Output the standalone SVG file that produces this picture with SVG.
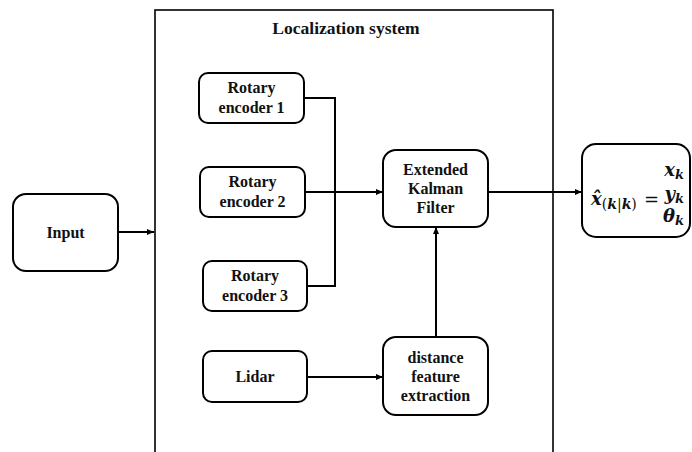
<svg xmlns="http://www.w3.org/2000/svg" width="692" height="452" viewBox="0 0 692 452">
  <defs>
    <marker id="arrow" markerWidth="8" markerHeight="8" refX="7" refY="4" orient="auto" markerUnits="userSpaceOnUse">
      <path d="M0,1 L7,4 L0,7 Z" fill="#000"/>
    </marker>
    <style>
      .box { fill: #fff; stroke: #000; stroke-width: 2; }
      .frame { fill: none; stroke: #000; stroke-width: 1.6; }
      .lbl { font-family: "Liberation Serif", "Times New Roman", serif; font-weight: bold; font-size: 16px; fill: #111; text-anchor: middle; }
      .title { font-size: 17.5px; }
      .wire { fill: none; stroke: #000; stroke-width: 2; }
      .math { font-family: "DejaVu Serif", "Liberation Serif", serif; font-weight: bold; font-style: italic; font-size: 18px; fill: #111; }
      .up { font-style: normal; font-weight: normal; }
      .col { text-anchor: end; }
    </style>
  </defs>

  <rect width="692" height="452" fill="#fff"/>

  <!-- localization system frame (open at the bottom edge of the page) -->
  <g id="localization-system">
    <rect class="frame" x="155" y="10" width="398" height="470"/>
    <text class="lbl title" x="346" y="34">Localization system</text>
  </g>

  <g id="connectors">
    <line class="wire" x1="118" y1="232" x2="154" y2="232" marker-end="url(#arrow)"/>
    <polyline class="wire" points="304,98 335,98 335,286 307,286"/>
    <line class="wire" x1="305" y1="192" x2="383" y2="192" marker-end="url(#arrow)"/>
    <line class="wire" x1="488" y1="192" x2="582" y2="192" marker-end="url(#arrow)"/>
    <line class="wire" x1="307" y1="377" x2="383" y2="377" marker-end="url(#arrow)"/>
    <line class="wire" x1="436" y1="337" x2="436" y2="227" marker-end="url(#arrow)"/>
  </g>

  <g id="input">
    <rect class="box" x="13" y="194" width="105" height="77" rx="13"/>
    <text class="lbl" x="65.5" y="238">Input</text>
  </g>

  <g id="rotary-encoder-1">
    <rect class="box" x="199" y="73" width="105" height="50" rx="9"/>
    <text class="lbl" x="251.5" y="93">Rotary</text>
    <text class="lbl" x="251.5" y="113">encoder 1</text>
  </g>

  <g id="rotary-encoder-2">
    <rect class="box" x="200" y="167" width="105" height="50" rx="9"/>
    <text class="lbl" x="252.5" y="187">Rotary</text>
    <text class="lbl" x="252.5" y="207">encoder 2</text>
  </g>

  <g id="rotary-encoder-3">
    <rect class="box" x="203" y="261" width="104" height="50" rx="9"/>
    <text class="lbl" x="255" y="281">Rotary</text>
    <text class="lbl" x="255" y="301">encoder 3</text>
  </g>

  <g id="ekf">
    <rect class="box" x="383" y="150" width="105" height="77" rx="13"/>
    <text class="lbl" x="435.5" y="175">Extended</text>
    <text class="lbl" x="435.5" y="194">Kalman</text>
    <text class="lbl" x="435.5" y="213">Filter</text>
  </g>

  <g id="lidar">
    <rect class="box" x="203" y="351" width="104" height="51" rx="9"/>
    <text class="lbl" x="255" y="382">Lidar</text>
  </g>

  <g id="distance-feature-extraction">
    <rect class="box" x="383" y="337" width="105" height="78" rx="13"/>
    <text class="lbl" x="435.5" y="363">distance</text>
    <text class="lbl" x="435.5" y="382">feature</text>
    <text class="lbl" x="435.5" y="401">extraction</text>
  </g>

  <g id="state-output">
    <rect class="box" x="582" y="144" width="108" height="93" rx="14"/>
    <!-- estimated state vector: x-hat(k|k) = [x_k, y_k, theta_k] -->
    <text class="math" x="591" y="205">x̂<tspan dy="4" font-size="14"><tspan class="up">(</tspan>k<tspan class="up">|</tspan>k<tspan class="up">)</tspan></tspan></text>
    <text class="math up" x="644" y="206" font-size="19">=</text>
    <text class="math col" x="684" y="176">x<tspan dy="3" font-size="13">k</tspan></text>
    <text class="math col" x="684" y="200">y<tspan dy="3" font-size="13">k</tspan></text>
    <text class="math col" x="684" y="222">θ<tspan dy="3" font-size="13">k</tspan></text>
  </g>
</svg>
